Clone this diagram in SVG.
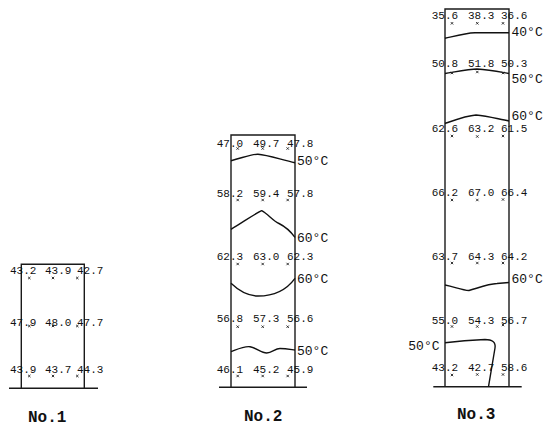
<svg xmlns="http://www.w3.org/2000/svg" width="545" height="429" viewBox="0 0 545 429">
<style>
.bg{fill:#fff}
.wall{fill:none;stroke:#1a1a1a;stroke-width:1.4}
.ground{fill:none;stroke:#1a1a1a;stroke-width:1.5}
.iso{fill:none;stroke:#111;stroke-width:1.4;stroke-linejoin:round}
.v{font-family:"Liberation Mono","DejaVu Sans Mono",monospace;font-size:11px;fill:#111}
.t{font-family:"Liberation Mono","DejaVu Sans Mono",monospace;font-size:13px;fill:#111}
.n{font-family:"Liberation Mono","DejaVu Sans Mono",monospace;font-size:16px;font-weight:bold;fill:#111}
.mk{fill:none;stroke:#222;stroke-width:0.9}
</style>
<defs>
<path id="x" class="mk" d="M-1.2,-1.2 L1.2,1.2 M-1.2,1.2 L1.2,-1.2"/>
</defs>
<rect class="bg" x="0" y="0" width="545" height="429"/>

<g id="col1">
<path class="wall" d="M21.3,388.3 V264.3 H84.3 V388.3"/>
<path class="ground" d="M9,388.3 H98"/>
<text class="v" x="10" y="274">43.2</text><text class="v" x="45" y="274">43.9</text><text class="v" x="77" y="274">42.7</text>
<text class="v" x="10" y="326">47.9</text><text class="v" x="45" y="326">48.0</text><text class="v" x="77" y="326">47.7</text>
<text class="v" x="10" y="372.5">43.9</text><text class="v" x="45" y="372.5">43.7</text><text class="v" x="77" y="372.5">44.3</text>
<use href="#x" x="29.3" y="278"/><use href="#x" x="53" y="278"/><use href="#x" x="77.3" y="278"/>
<use href="#x" x="29.3" y="326"/><use href="#x" x="53" y="326"/><use href="#x" x="77.3" y="326"/>
<use href="#x" x="29.3" y="376"/><use href="#x" x="53" y="376"/><use href="#x" x="77.3" y="376"/>
<text class="n" x="28" y="422">No.1</text>
</g>

<g id="col2">
<path class="wall" d="M231,387.3 V135 H295 V387.3"/>
<path class="ground" d="M219,387.3 H307"/>
<path class="iso" d="M231,160.7 C245,157 252,154 258,154.3 C268,155 282,160 295,162.7"/>
<path class="iso" d="M231,229.3 C242,223 254,214 261.7,210.7 C268,214 273,221 279,223.5 C286,227 291,232 295,237.3"/>
<path class="iso" d="M231,283.3 C238,290 248,296 258,296 C270,296 285,292 295,278.3"/>
<path class="iso" d="M231,351.7 C238,349 244,346 250,346.7 C257,348 261,353 266.7,353 C272,353 275,348.5 280,348.5 C286,348.5 291,349.5 295,350"/>
<text class="v" x="216.7" y="147">47.0</text><text class="v" x="253" y="147">49.7</text><text class="v" x="287" y="147">47.8</text>
<text class="v" x="216.7" y="196.7">58.2</text><text class="v" x="253" y="196.7">59.4</text><text class="v" x="287" y="196.7">57.8</text>
<text class="v" x="216.7" y="260">62.3</text><text class="v" x="253" y="260">63.0</text><text class="v" x="287" y="260">62.3</text>
<text class="v" x="216.7" y="322.3">56.8</text><text class="v" x="253" y="322.3">57.3</text><text class="v" x="287" y="322.3">56.6</text>
<text class="v" x="216.7" y="373.3">46.1</text><text class="v" x="253" y="373.3">45.2</text><text class="v" x="287" y="373.3">45.9</text>
<use href="#x" x="237.7" y="148.5"/><use href="#x" x="262.7" y="148.5"/><use href="#x" x="287.7" y="148.5"/>
<use href="#x" x="237.7" y="200"/><use href="#x" x="262.7" y="200"/><use href="#x" x="287.7" y="200"/>
<use href="#x" x="237.7" y="264"/><use href="#x" x="262.7" y="264"/><use href="#x" x="287.7" y="264"/>
<use href="#x" x="237.7" y="326.7"/><use href="#x" x="262.7" y="326.7"/><use href="#x" x="287.7" y="326.7"/>
<use href="#x" x="237.7" y="376"/><use href="#x" x="262.7" y="376"/><use href="#x" x="287.7" y="376"/>
<text class="t" x="297" y="165.3">50°C</text>
<text class="t" x="297" y="242">60°C</text>
<text class="t" x="297" y="283">60°C</text>
<text class="t" x="297" y="354.6">50°C</text>
<text class="n" x="244" y="421">No.2</text>
</g>

<g id="col3">
<path class="wall" d="M445,386.7 V9 H509 V386.7"/>
<path class="ground" d="M433.3,386.7 H521.7"/>
<path class="iso" d="M445,38.3 C455,36 465,33 475,32.7 L509,32.7"/>
<path class="iso" d="M445,73.5 C460,71 470,69 477,69 C490,70 500,72 509,73.5"/>
<path class="iso" d="M445,123.5 C455,120 467,115.5 476,115 C488,116 498,119 509,121"/>
<path class="iso" d="M445,285 C455,287 462,290 469,290.5 C478,288 488,284 497,283.5 L509,282.5"/>
<path class="iso" d="M445,342.7 C460,341 475,340 485,339.5 C492,339.5 496,342 495,348 L488.5,386.7"/>
<text class="v" x="431.7" y="19">35.6</text><text class="v" x="468" y="19">38.3</text><text class="v" x="501" y="19">36.6</text>
<text class="v" x="431.7" y="67">50.8</text><text class="v" x="468" y="67">51.8</text><text class="v" x="501" y="67">50.3</text>
<text class="v" x="431.7" y="132">62.6</text><text class="v" x="468" y="132">63.2</text><text class="v" x="501" y="132">61.5</text>
<text class="v" x="431.7" y="195.7">66.2</text><text class="v" x="468" y="195.7">67.0</text><text class="v" x="501" y="195.7">66.4</text>
<text class="v" x="431.7" y="260">63.7</text><text class="v" x="468" y="260">64.3</text><text class="v" x="501" y="260">64.2</text>
<text class="v" x="431.7" y="324">55.0</text><text class="v" x="468" y="324">54.3</text><text class="v" x="501" y="324">56.7</text>
<text class="v" x="431.7" y="371.3">43.2</text><text class="v" x="468" y="371.3">42.7</text><text class="v" x="501" y="371.3">58.6</text>
<use href="#x" x="452" y="23.3"/><use href="#x" x="477.3" y="23.3"/><use href="#x" x="503" y="23.3"/>
<use href="#x" x="452" y="73"/><use href="#x" x="477.3" y="72"/><use href="#x" x="503" y="73"/>
<use href="#x" x="452" y="136"/><use href="#x" x="477.3" y="136.5"/><use href="#x" x="503" y="136"/>
<use href="#x" x="452" y="200"/><use href="#x" x="477.3" y="200"/><use href="#x" x="503" y="199.5"/>
<use href="#x" x="452" y="263"/><use href="#x" x="477.3" y="263"/><use href="#x" x="503" y="263"/>
<use href="#x" x="452" y="326.5"/><use href="#x" x="477.3" y="326.5"/><use href="#x" x="503" y="325"/>
<use href="#x" x="452" y="375"/><use href="#x" x="477.3" y="374.5"/><use href="#x" x="503" y="374.5"/>
<text class="t" x="511.5" y="36.3">40°C</text>
<text class="t" x="511.5" y="83">50°C</text>
<text class="t" x="511.5" y="119.5">60°C</text>
<text class="t" x="511.5" y="283">60°C</text>
<text class="t" x="408.3" y="349.6">50°C</text>
<text class="n" x="457" y="419">No.3</text>
</g>
</svg>
